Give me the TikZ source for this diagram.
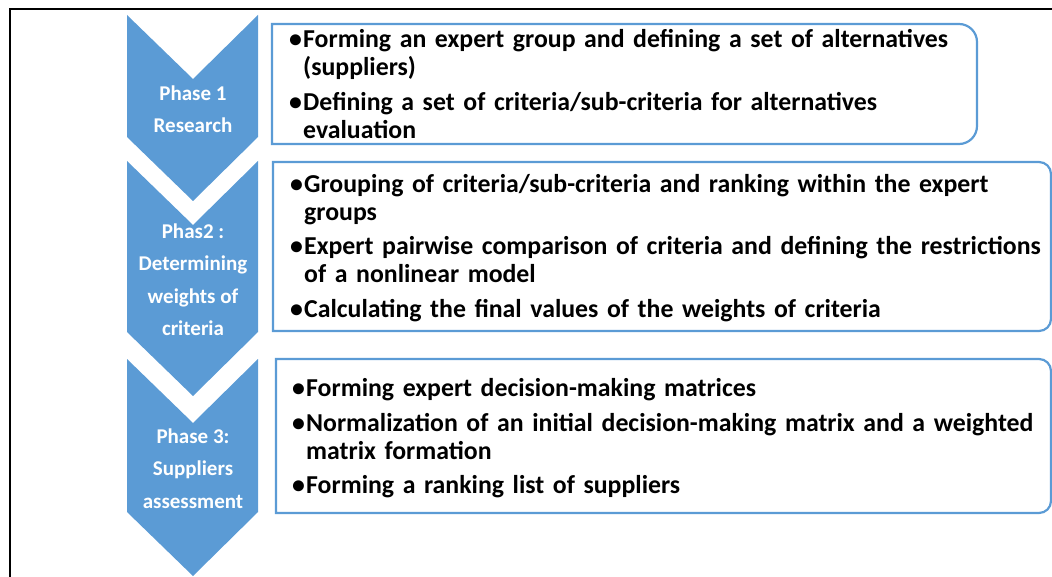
\documentclass[tikz,border=0pt]{standalone}
\usepackage{fontspec}
\setmainfont{Carlito}
\usetikzlibrary{calc}

\definecolor{phaseblue}{RGB}{91,155,213}

\newcommand{\bitem}[1]{\noindent\hangindent=14pt\hangafter=1\makebox[14pt][l]{\textbullet}#1\par}

\tikzset{
    phase/.style={fill=phaseblue},
    phasetext/.style={text=white, align=center, inner sep=0pt, font=\bfseries\fontsize{21}{32.5}\selectfont},
    listline/.style={draw=phaseblue, line width=2.2pt},
    listtext/.style={anchor=west, inner sep=0pt, text width=780pt, align=left,
        font=\bfseries\fontsize{25.8}{28}\selectfont\setlength\parskip{6.5pt}}
}

\begin{document}
\begin{tikzpicture}[x=1pt,y=1pt]

    \useasboundingbox (0,0) rectangle (1052,-577);
    \clip (0,0) rectangle (1052,-577);

    \draw[line width=2pt] (10,-590) -- (10,-9) -- (1060,-9);

    \foreach \ya/\yb/\n/\txt in {15/137/ph1/{Phase 1\\Research},
        161/332/ph2/{Phas2 :\\Determining\\weights of\\criteria},
        359/512/ph3/{Phase 3:\\Suppliers\\assessment}}
    {
    \fill[phase] (127,-\ya) -- (193,{-\ya-64}) -- (258,-\ya) -- (258,-\yb) -- (193,{-\yb-64}) -- (127,-\yb) -- cycle;
    \node[phasetext] (\n) at (193,{-(\ya+66+\yb)/2}) {\txt};
    }

    \foreach \xa/\ya/\xb/\yb/\r in {272/24/977/144/18, 273/162/1051/331/12, 276/359/1051/513/12}
    \draw[listline] (\xa,-\ya) -- ({\xb-\r},-\ya) arc[start angle=90, end angle=0, radius=\r]
        -- (\xb,{-\yb+\r}) arc[start angle=0, end angle=-90, radius=\r] -- (\xa,-\yb) -- cycle;

    \node[listtext] (lst1) at (289,-84) {%
        \bitem{Forming an expert group and defining a set of alternatives\newline(suppliers)}
        \bitem{Defining a set of criteria/sub-criteria for alternatives\newline evaluation}};
    \node[listtext] (lst2) at (290,-248) {%
        \bitem{Grouping of criteria/sub-criteria and ranking within the expert\newline groups}
        \bitem{Expert pairwise comparison of criteria and defining the restrictions\newline of a nonlinear model}
        \bitem{Calculating the final values of the weights of criteria}};
    \node[listtext] (lst3) at (292,-438.5) {%
        \bitem{Forming expert decision-making matrices}
        \bitem{Normalization of an initial decision-making matrix and a weighted\newline matrix formation}
        \bitem{Forming a ranking list of suppliers}};

\end{tikzpicture}
\end{document}
